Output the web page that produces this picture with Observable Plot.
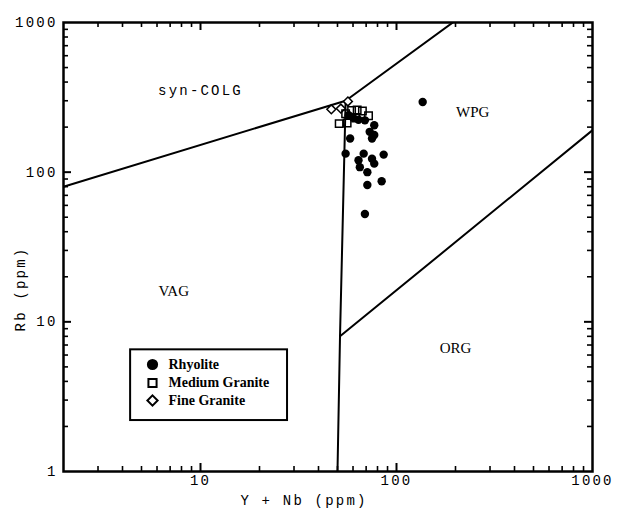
<!DOCTYPE html>
<html>
<head>
<meta charset="utf-8">
<script src="https://cdn.jsdelivr.net/npm/d3@7"></script>
<script src="https://cdn.jsdelivr.net/npm/@observablehq/plot@0.6"></script>
<style>
  html, body { margin: 0; padding: 0; background: #fff; }
  svg g[font-family*="Mono"] { letter-spacing: 2.2px; }
</style>
</head>
<body>
<div id="chart"></div>
<script>
// ---- data ----
const rhyoliteX = [136, 69, 77, 73, 77, 75, 58, 55, 68, 86, 64, 75, 65, 77, 71, 84, 71, 69, 57, 60, 64];
const rhyoliteY = [294, 222, 206, 186, 177, 168, 168, 133, 133, 131, 120, 123, 108, 114, 100, 87, 82, 52.5, 240, 232, 224];
const mediumX = [55, 59, 63, 67, 72, 51, 56, 62];
const mediumY = [246, 258, 260, 256, 238, 211, 213, 230];
const fineX = [46.5, 52, 56.5];
const fineY = [263, 266, 297];

// Pearce et al. (1984) field boundaries
const boundaryA = [[2, 80], [55, 300]];
const boundaryB = [[55, 300], [400, 2000]];
const boundaryC = [[55, 300], [51.5, 8], [50, 1]];
const boundaryD = [[51.5, 8], [2000, 400]];

const fieldNames = ["syn-COLG", "WPG", "VAG", "ORG"];
const fieldX = [10, 245, 7.3, 200];
const fieldY = [350, 250, 16, 6.7];

const xTickLabels = [10, 100, 1000];
const yTickLabels = [1, 10, 100, 1000];
const xMajor = [10, 100];
const yMajor = [10, 100];
const xMinor = [3, 4, 5, 6, 7, 8, 9, 20, 30, 40, 50, 60, 70, 80, 90, 200, 300, 400, 500, 600, 700, 800, 900];
const yMinor = [2, 3, 4, 5, 6, 7, 8, 9, 20, 30, 40, 50, 60, 70, 80, 90, 200, 300, 400, 500, 600, 700, 800, 900];

const legendNames = ["Rhyolite", "Medium Granite", "Fine Granite"];
const legendSymbols = ["circle", "square", "diamond2"];
const legendFills = ["black", "white", "white"];
const legendBox = {x1: 4.4, x2: 27.8, y1: 2.19, y2: 6.5};

const xTitle = "Y + Nb (ppm)";
const yTitle = "Rb (ppm)";

// ---- layout ----
const W = 619, H = 520;
const mL = 63, mR = 27, mT = 22, mB = 49;
const fw = W - mL - mR, fh = H - mT - mB;
const mono = "'Liberation Mono', 'DejaVu Sans Mono', monospace";
const serif = "'Liberation Serif', 'DejaVu Serif', serif";
const rowDy = [342, 360.5, 378];

const toPts = (xs, ys) => xs.map((x, i) => ({x, y: ys[i]}));
const segs = [boundaryA, boundaryB, boundaryC, boundaryD];

const tickMarks = (vals, len, sw) => [
  Plot.ruleX(vals, {x: d => d, insetTop: fh - len, stroke: "black", strokeWidth: sw}),
  Plot.ruleX(vals, {x: d => d, insetBottom: fh - len, stroke: "black", strokeWidth: sw})
];
const tickMarksY = (vals, len, sw) => [
  Plot.ruleY(vals, {y: d => d, insetRight: fw - len, stroke: "black", strokeWidth: sw}),
  Plot.ruleY(vals, {y: d => d, insetLeft: fw - len, stroke: "black", strokeWidth: sw})
];

const plot = Plot.plot({
  width: W, height: H,
  marginLeft: mL, marginRight: mR, marginTop: mT, marginBottom: mB,
  x: {type: "log", domain: [2, 1000]},
  y: {type: "log", domain: [1, 1000]},
  style: {background: "white", color: "black"},
  marks: [
    // legend box
    Plot.rect([legendBox], {x1: "x1", x2: "x2", y1: "y1", y2: "y2", fill: "white", stroke: "black", strokeWidth: 2}),
    // boundaries
    ...segs.map(s => Plot.line(s, {x: d => d[0], y: d => d[1], stroke: "black", strokeWidth: 2, clip: true})),
    // ticks (inward on all four sides)
    ...tickMarks(xMinor, 5, 1.6),
    ...tickMarks(xMajor, 8, 2),
    ...tickMarksY(yMinor, 5, 1.6),
    ...tickMarksY(yMajor, 8, 2),
    Plot.frame({stroke: "black", strokeWidth: 2.5}),
    // tick labels
    Plot.axisX({ticks: xTickLabels, tickSize: 0, tickPadding: 4, tickFormat: d => String(d), fontSize: 14, fontFamily: mono, label: null}),
    Plot.axisY({ticks: yTickLabels, tickSize: 0, tickPadding: 6, tickFormat: d => String(d), fontSize: 14, fontFamily: mono, label: null}),
    // axis titles
    Plot.text([xTitle], {text: d => d, frameAnchor: "bottom", textAnchor: "middle", dx: -24, dy: 33, fontSize: 14, fontFamily: mono}),
    Plot.text([yTitle], {text: d => d, frameAnchor: "left", textAnchor: "middle", lineAnchor: "middle", rotate: -90, dx: -43, dy: 42, fontSize: 14, fontFamily: mono}),
    // field labels
    Plot.text(fieldNames.slice(0, 1), {x: () => fieldX[0], y: () => fieldY[0], text: d => d, fontSize: 14, fontFamily: mono}),
    Plot.text(fieldNames.slice(1), {x: (d, i) => fieldX[i + 1], y: (d, i) => fieldY[i + 1], text: d => d, fontSize: 15, fontFamily: serif}),
    // data
    Plot.dot(toPts(fineX, fineY), {x: "x", y: "y", symbol: "diamond2", r: 4, stroke: "black", strokeWidth: 1.5, fill: "white"}),
    Plot.dot(toPts(mediumX, mediumY), {x: "x", y: "y", symbol: "square", r: 4.2, stroke: "black", strokeWidth: 1.5, fill: "none"}),
    Plot.dot(toPts(rhyoliteX, rhyoliteY), {x: "x", y: "y", symbol: "circle", r: 4.2, fill: "black", stroke: "none"}),
    // legend entries
    ...legendNames.map((n, i) => Plot.dot([n], {frameAnchor: "top-left", dx: 89, dy: rowDy[i], symbol: legendSymbols[i], r: 4.6, fill: legendFills[i], stroke: "black", strokeWidth: 2})),
    ...legendNames.map((n, i) => Plot.text([n], {frameAnchor: "top-left", text: d => d, textAnchor: "start", lineAnchor: "middle", dx: 105, dy: rowDy[i], fontSize: 14, fontWeight: "bold", fontFamily: serif}))
  ]
});

document.getElementById("chart").appendChild(plot);
</script>
</body>
</html>
